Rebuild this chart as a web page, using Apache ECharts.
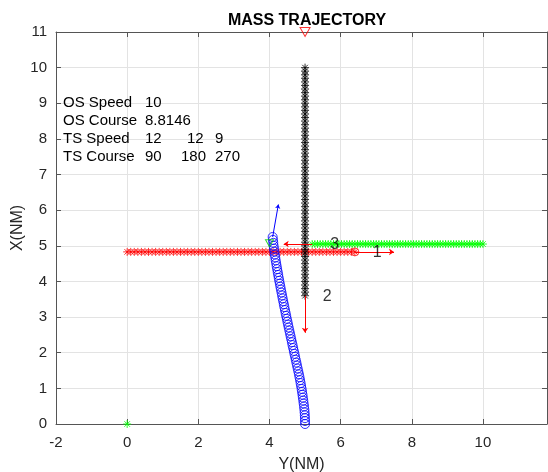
<!DOCTYPE html>
<html>
<head>
<meta charset="UTF-8">
<title>MASS TRAJECTORY</title>
<script src="https://cdn.jsdelivr.net/npm/echarts@6/dist/echarts.min.js"></script>
<style>
  html, body { margin: 0; padding: 0; background: #fff; }
  #main { width: 548px; height: 472px; }
</style>
</head>
<body>
<div id="main"></div>
<script type="text/javascript">
// track 1 (red, course 90) - horizontal positions, constant vertical position
var track1X = [0, 0.1, 0.2, 0.3, 0.4, 0.5, 0.6, 0.7, 0.8, 0.9, 1.0, 1.1, 1.2, 1.3, 1.4, 1.5, 1.6, 1.7, 1.8, 1.9,
  2.0, 2.1, 2.2, 2.3, 2.4, 2.5, 2.6, 2.7, 2.8, 2.9, 3.0, 3.1, 3.2, 3.3, 3.4, 3.5, 3.6, 3.7, 3.8, 3.9,
  4.0, 4.1, 4.2, 4.3, 4.4, 4.5, 4.6, 4.7, 4.8, 4.9, 5.0, 5.1, 5.2, 5.3, 5.4, 5.5, 5.6, 5.7, 5.8, 5.9,
  6.0, 6.1, 6.2, 6.3, 6.4];
var track1Y = 4.83;

// track 2 (black, course 180) - vertical positions at x = 5
var track2X = 5;
var track2Y = [10, 9.9, 9.8, 9.7, 9.6, 9.5, 9.4, 9.3, 9.2, 9.1, 9.0, 8.9, 8.8, 8.7, 8.6, 8.5, 8.4, 8.3, 8.2, 8.1,
  8.0, 7.9, 7.8, 7.7, 7.6, 7.5, 7.4, 7.3, 7.2, 7.1, 7.0, 6.9, 6.8, 6.7, 6.6, 6.5, 6.4, 6.3, 6.2, 6.1,
  6.0, 5.9, 5.8, 5.7, 5.6, 5.5, 5.4, 5.3, 5.2, 5.1, 5.0, 4.9, 4.8, 4.7, 4.6, 4.5, 4.4, 4.3, 4.2, 4.1,
  4.0, 3.9, 3.8, 3.7, 3.6];

// track 3 (green, course 270)
var track3X = [10, 9.925, 9.85, 9.775, 9.7, 9.625, 9.55, 9.475, 9.4, 9.325, 9.25, 9.175, 9.1, 9.025, 8.95, 8.875,
  8.8, 8.725, 8.65, 8.575, 8.5, 8.425, 8.35, 8.275, 8.2, 8.125, 8.05, 7.975, 7.9, 7.825, 7.75, 7.675,
  7.6, 7.525, 7.45, 7.375, 7.3, 7.225, 7.15, 7.075, 7.0, 6.925, 6.85, 6.775, 6.7, 6.625, 6.55, 6.475,
  6.4, 6.325, 6.25, 6.175, 6.1, 6.025, 5.95, 5.875, 5.8, 5.725, 5.65, 5.575, 5.5, 5.425, 5.35, 5.275, 5.2];
var track3Y = 5.05;

// own ship (blue circles)
var ownX = [5.000, 4.999, 4.997, 4.993, 4.987, 4.980, 4.971, 4.961, 4.950, 4.939, 4.928, 4.915, 4.903,
  4.889, 4.875, 4.860, 4.844, 4.828, 4.810, 4.792, 4.774, 4.756, 4.738, 4.720, 4.702, 4.684, 4.666,
  4.648, 4.630, 4.612, 4.594, 4.576, 4.558, 4.540, 4.522, 4.505, 4.488, 4.470, 4.453, 4.436, 4.419,
  4.403, 4.386, 4.370, 4.354, 4.338, 4.322, 4.306, 4.291, 4.275, 4.260, 4.246, 4.231, 4.216, 4.202,
  4.188, 4.175, 4.162, 4.150, 4.138, 4.127, 4.116, 4.107, 4.098, 4.089];
var ownY = [0, 0.082, 0.164, 0.246, 0.328, 0.41, 0.492, 0.574, 0.656, 0.738, 0.82, 0.902, 0.984,
  1.066, 1.148, 1.23, 1.312, 1.394, 1.476, 1.558, 1.64, 1.722, 1.804, 1.886, 1.968, 2.05, 2.132,
  2.214, 2.296, 2.378, 2.46, 2.542, 2.624, 2.706, 2.788, 2.87, 2.952, 3.034, 3.116, 3.198, 3.28,
  3.362, 3.444, 3.526, 3.608, 3.69, 3.772, 3.854, 3.936, 4.018, 4.1, 4.182, 4.264, 4.346, 4.428,
  4.51, 4.592, 4.674, 4.756, 4.838, 4.92, 5.002, 5.084, 5.166, 5.248];

// direction arrows [from, to]
var redArrows = [
  [[6.4, 4.83], [7.5, 4.83]],
  [[5.0, 3.6], [5.0, 2.56]],
  [[5.2, 5.05], [4.4, 5.05]]
];
var blueArrow = [[[4.089, 5.248], [4.25, 6.16]]];

// target numbers
var targetLabels = [
  { name: '1', value: [7.03, 4.8] },
  { name: '2', value: [5.62, 3.58] },
  { name: '3', value: [5.83, 5.03] }
];

var startPoint = [[0, 0]];
var redTriangle = [[5, 11]];
var greenTriangle = [[4.0, 5.07]];
var redEndCircle = [[6.4, 4.83]];

var infoLines = [
  ['OS Speed', '10'],
  ['OS Course', '8.8146'],
  ['TS Speed', '12', '12', '9'],
  ['TS Course', '90', '180', '270']
];

var myChart = echarts.init(document.getElementById('main'));

var asterisk = 'path://M5,0L5,10M0,5L10,5M1.5,1.5L8.5,8.5M1.5,8.5L8.5,1.5';
var txtColor = '#262626';
var axisColor = '#555555';
var fontFam = '"Liberation Sans", Arial, sans-serif';

function pairsX(xs, y) { return xs.map(function (x) { return [x, y]; }); }
function pairsY(x, ys) { return ys.map(function (y) { return [x, y]; }); }
function zip(xs, ys) { return xs.map(function (x, i) { return [x, ys[i]]; }); }

// info text block (pixel layout)
var colX = [63, 145, 184, 215];
var rowY = [103, 121, 139, 157];
var graphics = [];
infoLines.forEach(function (row, r) {
  row.forEach(function (t, c) {
    var x = colX[c];
    if (r === 3 && c === 2) x = 181;
    if (r === 2 && c === 2) x = 187;
    graphics.push({
      type: 'text', left: x, top: rowY[r] - 8, z: 100,
      style: { text: t, fill: '#000', font: '15px ' + fontFam }
    });
  });
});

var option = {
  animation: false,
  backgroundColor: '#fff',
  title: {
    text: 'MASS TRAJECTORY', left: 302, top: 8, textAlign: 'center',
    textStyle: { fontSize: 16, fontWeight: 'bold', color: '#000', fontFamily: fontFam }
  },
  grid: { left: 56, right: 1, top: 32, bottom: 48, outerBoundsMode: 'none', containLabel: false },
  xAxis: [{
    type: 'value', min: -2, max: 11.8, interval: 2,
    name: 'Y(NM)', nameLocation: 'middle', nameGap: 33, nameMoveOverlap: false,
    nameTextStyle: { fontSize: 16, color: txtColor, fontFamily: fontFam },
    axisLine: { show: true, onZero: false, lineStyle: { color: axisColor, width: 1 } },
    axisTick: { show: true, inside: true, length: 5, lineStyle: { color: axisColor } },
    axisLabel: { fontSize: 15, color: txtColor, margin: 11, fontFamily: fontFam, showMaxLabel: false },
    splitLine: { show: true, lineStyle: { color: '#e3e3e3', width: 1 } }
  }, {
    type: 'value', position: 'top', min: -2, max: 11.8, interval: 2,
    axisLine: { show: true, onZero: false, lineStyle: { color: axisColor, width: 1 } },
    axisTick: { show: true, inside: true, length: 5, lineStyle: { color: axisColor } },
    axisLabel: { show: false }, splitLine: { show: false }
  }],
  yAxis: [{
    type: 'value', min: 0, max: 11, interval: 1,
    name: 'X(NM)', nameLocation: 'middle', nameGap: 30, nameRotate: 90, nameMoveOverlap: false,
    nameTextStyle: { fontSize: 16, color: txtColor, fontFamily: fontFam },
    axisLine: { show: true, onZero: false, lineStyle: { color: axisColor, width: 1 } },
    axisTick: { show: true, inside: true, length: 5, lineStyle: { color: axisColor } },
    axisLabel: { fontSize: 15, color: txtColor, margin: 9, fontFamily: fontFam },
    splitLine: { show: true, lineStyle: { color: '#e3e3e3', width: 1 } }
  }, {
    type: 'value', position: 'right', min: 0, max: 11, interval: 1,
    axisLine: { show: true, onZero: false, lineStyle: { color: axisColor, width: 1 } },
    axisTick: { show: true, inside: true, length: 5, lineStyle: { color: axisColor } },
    axisLabel: { show: false }, splitLine: { show: false }
  }],
  graphic: graphics,
  series: [
    {
      type: 'scatter', data: pairsX(track1X, track1Y), symbol: asterisk, symbolSize: 8,
      itemStyle: { color: 'transparent', borderColor: '#ff0000', borderWidth: 1 }, z: 3
    },
    {
      type: 'scatter', data: pairsX(track3X, track3Y), symbol: asterisk, symbolSize: 8,
      itemStyle: { color: 'transparent', borderColor: '#00ff00', borderWidth: 1 }, z: 3
    },
    {
      type: 'scatter', data: zip(ownX, ownY), symbol: 'circle', symbolSize: 9,
      itemStyle: { color: 'transparent', borderColor: '#0000ff', borderWidth: 1 }, z: 4
    },
    {
      type: 'scatter', data: pairsY(track2X, track2Y), symbol: asterisk, symbolSize: 8,
      itemStyle: { color: 'transparent', borderColor: '#000000', borderWidth: 1 }, z: 5
    },
    {
      type: 'lines', coordinateSystem: 'cartesian2d', data: redArrows.map(function (c) { return { coords: c }; }),
      symbol: ['none', 'arrow'], symbolSize: 5,
      lineStyle: { color: '#ff0000', width: 1, opacity: 1 }, z: 6
    },
    {
      type: 'lines', coordinateSystem: 'cartesian2d', data: blueArrow.map(function (c) { return { coords: c }; }),
      symbol: ['none', 'arrow'], symbolSize: 4,
      lineStyle: { color: '#0000ff', width: 1, opacity: 1 }, z: 6
    },
    {
      type: 'scatter', data: redEndCircle, symbol: 'circle', symbolSize: 8,
      itemStyle: { color: 'transparent', borderColor: '#ff0000', borderWidth: 1 }, z: 6
    },
    {
      type: 'scatter', data: greenTriangle, symbol: 'path://M0,0L10,0L5,9Z', symbolSize: [8, 7],
      itemStyle: { color: 'transparent', borderColor: '#00cc00', borderWidth: 1 }, z: 6
    },
    {
      type: 'scatter', data: redTriangle, symbol: 'path://M0,0L10,0L5,9Z', symbolSize: [10, 9],
      itemStyle: { color: 'transparent', borderColor: '#ff0000', borderWidth: 1 }, z: 6
    },
    {
      type: 'scatter', data: startPoint, symbol: asterisk, symbolSize: 8,
      itemStyle: { color: 'transparent', borderColor: '#00ff00', borderWidth: 1 }, z: 6
    },
    {
      type: 'scatter', data: targetLabels, symbolSize: 0,
      label: {
        show: true, position: 'inside', formatter: '{b}',
        fontSize: 16, color: '#000', fontFamily: fontFam
      }, z: 7
    }
  ]
};

myChart.setOption(option);
</script>
</body>
</html>
